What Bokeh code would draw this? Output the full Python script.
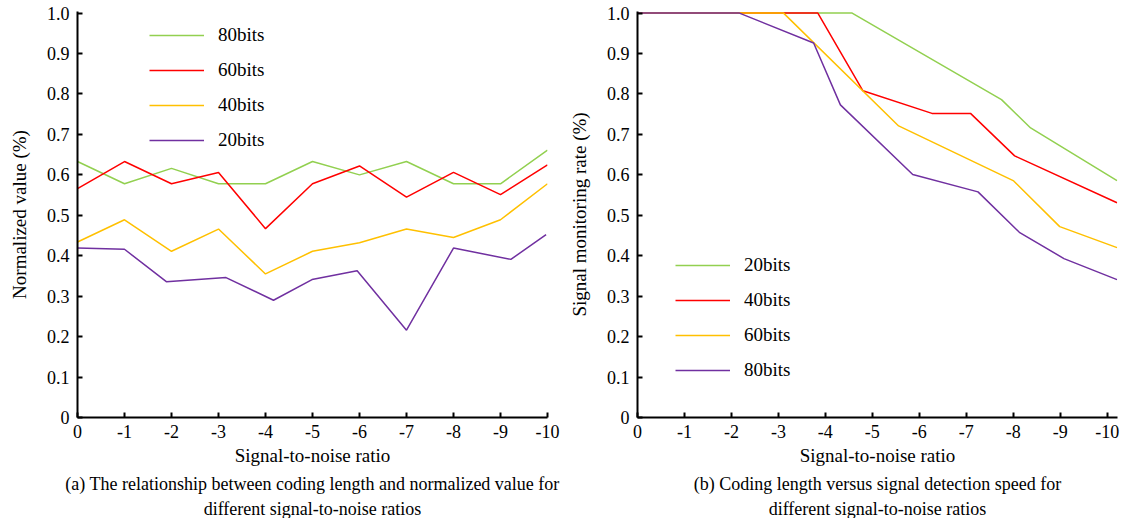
from bokeh.plotting import figure
from bokeh.models import Range1d, FixedTicker, Legend, LegendItem, Title
from bokeh.layouts import row
from bokeh.embed import file_html
from bokeh.resources import INLINE

FONT = "Liberation Serif"

snr_ticks = [0, -1, -2, -3, -4, -5, -6, -7, -8, -9, -10]
snr_tick_labels = ["0", "-1", "-2", "-3", "-4", "-5", "-6", "-7", "-8", "-9", "-10"]
y_ticks = [0, 0.1, 0.2, 0.3, 0.4, 0.5, 0.6, 0.7, 0.8, 0.9, 1.0]
y_tick_labels = ["0", "0.1", "0.2", "0.3", "0.4", "0.5", "0.6", "0.7", "0.8", "0.9", "1.0"]

# (a) normalized value
a_x = [0, -1, -2, -3, -4, -5, -6, -7, -8, -9, -10]
a_80 = [0.633, 0.578, 0.616, 0.578, 0.578, 0.633, 0.600, 0.633, 0.578, 0.578, 0.661]
a_60 = [0.566, 0.633, 0.578, 0.606, 0.467, 0.578, 0.622, 0.545, 0.606, 0.551, 0.625]
a_40 = [0.434, 0.489, 0.411, 0.466, 0.355, 0.411, 0.432, 0.466, 0.445, 0.489, 0.578]
a_20_x = [0, -1, -1.89, -3.16, -4.17, -4.99, -5.95, -7.0, -8.0, -9.22, -9.97]
a_20 = [0.419, 0.416, 0.336, 0.346, 0.290, 0.341, 0.363, 0.216, 0.419, 0.391, 0.452]

# (b) signal monitoring rate
b_20_x = [0, -4.57, -7.75, -8.37, -10.21]
b_20 = [1.0, 1.0, 0.786, 0.716, 0.586]
b_40_x = [0, -3.84, -4.80, -6.27, -7.09, -8.03, -10.21]
b_40 = [1.0, 1.0, 0.808, 0.752, 0.752, 0.647, 0.531]
b_60_x = [0, -3.11, -5.56, -8.01, -8.99, -10.21]
b_60 = [1.0, 1.0, 0.721, 0.585, 0.472, 0.420]
b_80_x = [0, -2.17, -3.75, -4.32, -5.86, -7.25, -8.13, -9.08, -10.21]
b_80 = [1.0, 1.0, 0.926, 0.773, 0.601, 0.558, 0.458, 0.393, 0.341]

GREEN = "#92d050"
RED = "#ff0000"
YELLOW = "#ffc000"
PURPLE = "#7030a0"


def make_fig(width, x_end, border_left, border_right, ylabel, captions):
    p = figure(width=width, height=518, output_backend="svg", toolbar_location=None,
               x_range=Range1d(0, x_end), y_range=Range1d(0, 1.004),
               min_border_left=border_left, min_border_right=border_right,
               min_border_top=11, min_border_bottom=100)
    p.outline_line_color = None
    p.xgrid.visible = False
    p.ygrid.visible = False
    p.background_fill_color = "white"
    p.border_fill_color = "white"
    for ax in (p.xaxis[0], p.yaxis[0]):
        ax.axis_line_width = 2
        ax.axis_line_color = "black"
        ax.major_tick_line_width = 2
        ax.major_tick_line_color = "black"
        ax.major_tick_in = 5
        ax.major_tick_out = 0
        ax.minor_tick_line_color = None
        ax.major_label_text_font = FONT
        ax.major_label_text_font_size = "18px"
        ax.major_label_text_color = "black"
        ax.axis_label_text_font = FONT
        ax.axis_label_text_font_size = "19px"
        ax.axis_label_text_font_style = "normal"
        ax.axis_label_text_color = "black"
    p.xaxis.ticker = FixedTicker(ticks=snr_ticks)
    p.xaxis.major_label_overrides = {t: l for t, l in zip(snr_ticks, snr_tick_labels)}
    p.xaxis.axis_label = "Signal-to-noise ratio"
    p.xaxis.major_label_standoff = 7
    p.xaxis.axis_label_standoff = 4
    p.yaxis.ticker = FixedTicker(ticks=y_ticks)
    p.yaxis.major_label_overrides = {t: l for t, l in zip(y_ticks, y_tick_labels)}
    p.yaxis.axis_label = ylabel
    p.yaxis.major_label_standoff = 8
    p.yaxis.axis_label_standoff = 14
    for i, c in enumerate(captions):
        p.add_layout(Title(text=c, align="center", text_font=FONT, text_font_size="18px",
                           text_font_style="normal", text_color="black",
                           standoff=6 if i == 0 else 0), "below")
    return p


pa = make_fig(564, -10.0, 77, 17, "Normalized value (%)",
              ["(a) The relationship between coding length and normalized value for",
               "different signal-to-noise ratios"])
ra80 = pa.line(a_x, a_80, line_color=GREEN, line_width=1.5)
ra60 = pa.line(a_x, a_60, line_color=RED, line_width=1.5)
ra40 = pa.line(a_x, a_40, line_color=YELLOW, line_width=1.5)
ra20 = pa.line(a_20_x, a_20, line_color=PURPLE, line_width=1.5)
leg_a = Legend(items=[LegendItem(label="80bits", renderers=[ra80]),
                      LegendItem(label="60bits", renderers=[ra60]),
                      LegendItem(label="40bits", renderers=[ra40]),
                      LegendItem(label="20bits", renderers=[ra20])],
               location=(72, 266))
pa.add_layout(leg_a, "center")

pb = make_fig(564, -10.22, 73, 11, "Signal monitoring rate (%)",
              ["(b) Coding length versus signal detection speed for",
               "different signal-to-noise ratios"])
rb20 = pb.line(b_20_x, b_20, line_color=GREEN, line_width=1.5)
rb40 = pb.line(b_40_x, b_40, line_color=RED, line_width=1.5)
rb60 = pb.line(b_60_x, b_60, line_color=YELLOW, line_width=1.5)
rb80 = pb.line(b_80_x, b_80, line_color=PURPLE, line_width=1.5)
leg_b = Legend(items=[LegendItem(label="20bits", renderers=[rb20]),
                      LegendItem(label="40bits", renderers=[rb40]),
                      LegendItem(label="60bits", renderers=[rb60]),
                      LegendItem(label="80bits", renderers=[rb80])],
               location=(38, 36))
pb.add_layout(leg_b, "center")

for lg in (leg_a, leg_b):
    lg.border_line_color = None
    lg.background_fill_alpha = 0
    lg.label_text_font = FONT
    lg.label_text_font_size = "19px"
    lg.label_text_color = "black"
    lg.glyph_width = 55
    lg.glyph_height = 20
    lg.label_height = 20
    lg.spacing = 13
    lg.padding = 0
    lg.margin = 0
    lg.label_standoff = 14

layout = row(pa, pb)
open("out.html", "w").write(file_html(layout, INLINE))
